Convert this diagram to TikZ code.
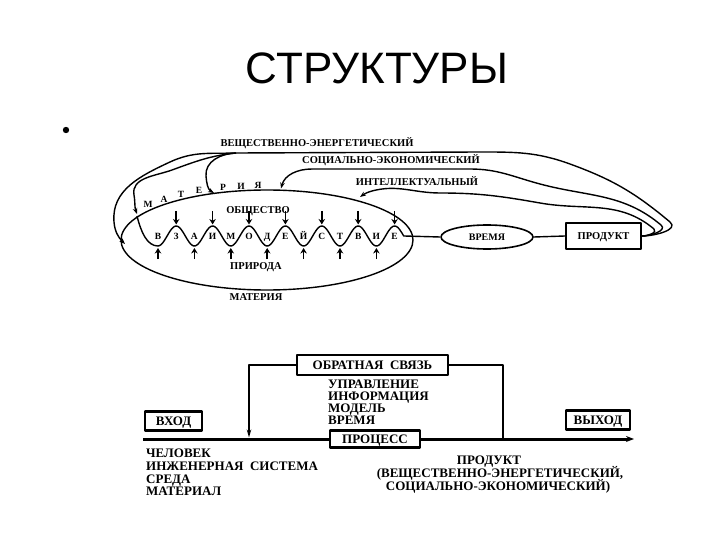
\documentclass[tikz,border=0pt]{standalone}
\usepackage{fontspec}
\setmainfont{Liberation Serif}
\newfontfamily\titlefont{Liberation Sans}
\usetikzlibrary{arrows.meta,shapes.geometric}
\begin{document}
\begin{tikzpicture}[x=1pt,y=-1pt,line join=round,
  tl/.style={line width=1.4pt},
  tarr/.style={tl,-{Stealth[length=6pt,width=4.5pt]}},
  warr/.style={line width=1.7pt,-{Stealth[length=5.5pt,width=6.5pt]}},
  tlab/.style={font=\fontsize{10.5}{12}\selectfont\bfseries,inner sep=0pt,text height=7pt,text depth=0pt},
  wl/.style={font=\fontsize{9.5}{10}\selectfont\bfseries,inner sep=0pt,text height=6.3pt,text depth=0pt},
  blab/.style={font=\fontsize{13}{14}\selectfont\bfseries,inner sep=0pt,text height=8.6pt,text depth=0pt},
  bbox/.style={draw,line width=2.6pt,font=\fontsize{13}{14}\selectfont\bfseries,inner sep=0pt,text height=8.6pt,text depth=0pt},
  fbl/.style={line width=2pt},
  mainl/.style={line width=3pt}]
\useasboundingbox (0,0) rectangle (720,540);

% title and bullet
\node[font=\titlefont\fontsize{44}{48}\selectfont] (title) at (377,68) {СТРУКТУРЫ};
\fill (66,130) circle (3.2pt);

% ---------- upper diagram ----------
\draw[tl] (267,240) ellipse [x radius=146pt, y radius=50pt];
\coordinate (wstart) at (137,216);
\coordinate (wend) at (403.7,236);

\node[draw,ellipse,line width=1.6pt,minimum width=92pt,minimum height=24pt,inner sep=0pt,
  font=\fontsize{10}{12}\selectfont\bfseries,text height=6.6pt,text depth=0pt] (time) at (487,237) {ВРЕМЯ};
\node[draw,line width=2pt,minimum width=75pt,minimum height=25pt,inner sep=0pt,
  font=\fontsize{10.5}{12}\selectfont\bfseries,text height=7pt,text depth=0pt] (prod) at (603.5,236) {ПРОДУКТ};

% wave
\draw[tl] (wstart) .. controls (141,232) and (147,246) .. (158,246)
  -- plot[domain=158:403.7,samples=160,smooth] (\x,{236+10*cos(9.89*(\x-158))})
  -- (time.west);
\draw[tl] (time.east) -- (prod.west);

\foreach \l [count=\i from 0] in {В,З,А,И,М,О,Д,Е,Й,С,Т,В,И,Е}
  \node[wl] (w\i) at ({158+18.2*\i},236) {\l};
\foreach \i in {1,3,5,7,9,11,13}
  \draw[warr] ({158+18.2*\i},211) -- ({158+18.2*\i},224.5);
\foreach \i in {0,2,4,6,8,10,12}
  \draw[warr] ({158+18.2*\i},259) -- ({158+18.2*\i},248);

% МАТЕРИЯ letters along arc
\node[wl] (m1) at (148,204) {М};
\node[wl] (m2) at (164,199) {А};
\node[wl] (m3) at (181,194) {Т};
\node[wl] (m4) at (199,190) {Е};
\node[wl] (m5) at (223,187) {Р};
\node[wl] (m6) at (241,186) {И};
\node[wl] (m7) at (258,185) {Я};

\node[tlab] (soc) at (258,210) {ОБЩЕСТВО};
\node[tlab] (nat) at (256,266) {ПРИРОДА};
\node[tlab] (mat) at (256,297) {МАТЕРИЯ};

\node[tlab] (lv) at (317,143) {ВЕЩЕСТВЕННО-ЭНЕРГЕТИЧЕСКИЙ};
\node[tlab] (ls) at (391,160) {СОЦИАЛЬНО-ЭКОНОМИЧЕСКИЙ};
\node[tlab] (li) at (417,182) {ИНТЕЛЛЕКТУАЛЬНЫЙ};

% feedback curves
\coordinate (vsplit) at (236,153);
\draw[tl] (prod.east) to[out=0,in=-40] (670,222) to[out=140,in=-20] (570,164)
  to[out=160,in=0] (480,152) -- (vsplit);
\draw[tarr] (vsplit) to[out=182,in=95] (206,176) to[out=-85,in=150] (214,193);
\draw[tarr] (vsplit) to[out=182,in=25] (170,162) to[out=205,in=95] (114,222) to[out=-85,in=135] (125,244);
\draw[tarr] (vsplit) to[out=186,in=20] (172,170) to[out=200,in=100] (134,195) to[out=-80,in=110] (137,214);

\draw[tl] (prod.east) to[out=0,in=-40] (661,225) to[out=140,in=-15] (540,184)
  to[out=165,in=0] (470,169) -- (312,169);
\draw[tarr] (312,169) to[out=180,in=75] (281,188.5);

\draw[tl] (prod.east) to[out=0,in=-40] (654,229) to[out=140,in=-10] (540,203)
  to[out=170,in=0] (440,193) to[out=180,in=15] (372,191);
\draw[tarr] (372,191) to[out=195,in=35] (360,197);

% ---------- lower diagram ----------
\node[bbox,minimum width=151pt,minimum height=20pt] (fb) at (372.5,365) {ОБРАТНАЯ\ \ СВЯЗЬ};
\node[bbox,minimum width=57pt,minimum height=19pt] (in) at (173.5,421) {ВХОД};
\node[bbox,minimum width=90pt,minimum height=17pt] (proc) at (375,439) {ПРОЦЕСС};
\node[bbox,minimum width=64pt,minimum height=19pt] (out) at (598,420) {ВЫХОД};

\coordinate (lstart) at (143,439);
\coordinate (lend) at (634,439);
\coordinate (fbin) at (249,437.5);
\coordinate (fbout) at (503,439);
\draw[mainl] (lstart) -- (proc.west);
\draw[mainl,-{Stealth[length=8pt,width=6pt]}] (proc.east) -- (lend);
\draw[fbl,-{Stealth[length=8pt,width=4.5pt]}] (fb.west) -| (fbin);
\draw[fbl] (fb.east) -| (fbout);

\node[blab,anchor=west] (u1) at (328,384) {УПРАВЛЕНИЕ};
\node[blab,anchor=west] (u2) at (328,396) {ИНФОРМАЦИЯ};
\node[blab,anchor=west] (u3) at (328,408) {МОДЕЛЬ};
\node[blab,anchor=west] (u4) at (328,420) {ВРЕМЯ};

\node[blab,anchor=west] (c1) at (146,453) {ЧЕЛОВЕК};
\node[blab,anchor=west] (c2) at (146,466) {ИНЖЕНЕРНАЯ\ \ СИСТЕМА};
\node[blab,anchor=west] (c3) at (146,479) {СРЕДА};
\node[blab,anchor=west] (c4) at (146,491) {МАТЕРИАЛ};

\node[blab] (p1) at (489,460) {ПРОДУКТ};
\node[blab] (p2) at (500,473) {(ВЕЩЕСТВЕННО-ЭНЕРГЕТИЧЕСКИЙ,};
\node[blab] (p3) at (498,486) {СОЦИАЛЬНО-ЭКОНОМИЧЕСКИЙ)};
\end{tikzpicture}
\end{document}
